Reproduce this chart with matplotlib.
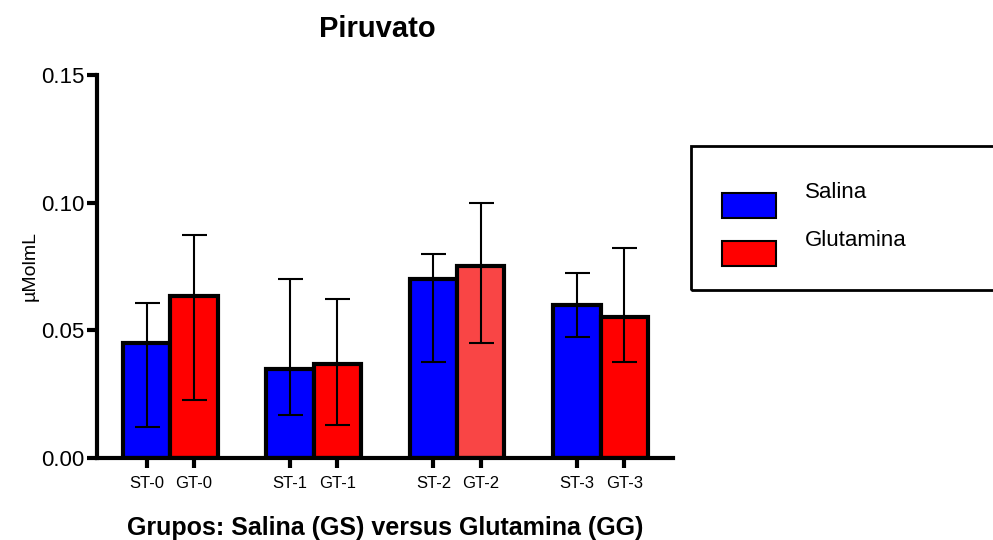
import matplotlib
matplotlib.use("Agg")
import matplotlib.pyplot as plt
import numpy as np
from matplotlib.patches import Rectangle

plt.rcParams['font.family'] = ['Liberation Sans', 'DejaVu Sans']

groups = ["0", "1", "2", "3"]
st_labels = ["ST-0", "ST-1", "ST-2", "ST-3"]
gt_labels = ["GT-0", "GT-1", "GT-2", "GT-3"]
series_names = ["Salina", "Glutamina"]
salina = [0.045, 0.035, 0.070, 0.060]
salina_err_low = [0.012, 0.017, 0.0376, 0.0474]
salina_err_high = [0.0607, 0.070, 0.080, 0.0725]
glutamina = [0.0635, 0.0368, 0.0752, 0.0552]
glut_err_low = [0.0227, 0.0129, 0.045, 0.0376]
glut_err_high = [0.0873, 0.0623, 0.0999, 0.0823]
glut_colors = ["#FF0000", "#FF0000", "#F94545", "#FF0000"]
series_colors = ["#0000FF", "#FF0000"]

fig = plt.figure(figsize=(9.93, 5.40), dpi=100)
ax = fig.add_axes([0.0977, 0.1519, 0.58, 0.7093])

x = np.arange(len(groups))
w = 0.33
xs = x - w / 2
xg = x + w / 2

ax.bar(xs, salina, width=w, color=series_colors[0], edgecolor="black", linewidth=3, zorder=2)
ax.bar(xg, glutamina, width=w, color=glut_colors, edgecolor="black", linewidth=3, zorder=2)

s = np.array(salina); g = np.array(glutamina)
ax.errorbar(xs, s, yerr=[s - np.array(salina_err_low), np.array(salina_err_high) - s],
            fmt="none", ecolor="black", elinewidth=1.5, capsize=9, capthick=1.5, zorder=3)
ax.errorbar(xg, g, yerr=[g - np.array(glut_err_low), np.array(glut_err_high) - g],
            fmt="none", ecolor="black", elinewidth=1.5, capsize=9, capthick=1.5, zorder=3)

ax.set_xlim(-0.51, 3.505)
ax.set_ylim(0, 0.15)
ax.set_yticks([0.0, 0.05, 0.10, 0.15])
ax.set_yticklabels(["0.00", "0.05", "0.10", "0.15"], fontsize=16)
ticks = []
labels = []
for i in range(len(groups)):
    ticks += [xs[i], xg[i]]
    labels += [st_labels[i], gt_labels[i]]
ax.set_xticks(ticks)
ax.set_xticklabels(labels, fontsize=12)

for side in ["top", "right"]:
    ax.spines[side].set_visible(False)
for side in ["left", "bottom"]:
    ax.spines[side].set_linewidth(3)
ax.tick_params(axis="y", length=7, width=3, pad=2)
ax.tick_params(axis="x", length=7, width=3, pad=6)

ax.set_ylabel("µMolmL", fontsize=14, labelpad=2)
ax.set_xlabel("Grupos: Salina (GS) versus Glutamina (GG)", fontsize=18, fontweight="bold", labelpad=18)
fig.text(0.38, 0.947, "Piruvato", fontsize=21, fontweight="bold", ha="center", va="center")

# Legend box (extends past the right edge as in the reference)
def fx(px):
    return px / 993
def fy(py):
    return (540 - py) / 540

fig.patches.append(Rectangle((fx(691), fy(290)), fx(400), 144 / 540,
                             transform=fig.transFigure, fill=False, edgecolor="black",
                             linewidth=2, clip_on=False))
patch_tops = [193, 241]
text_centers = [192, 240]
for name, col, pt, tc in zip(series_names, series_colors, patch_tops, text_centers):
    fig.patches.append(Rectangle((fx(722), fy(pt + 25)), fx(54), 25 / 540,
                                 transform=fig.transFigure, facecolor=col,
                                 edgecolor="black", linewidth=1.5))
    fig.text(fx(805), fy(tc), name, fontsize=16, ha="left", va="center")

fig.savefig("out.png", dpi=100)
